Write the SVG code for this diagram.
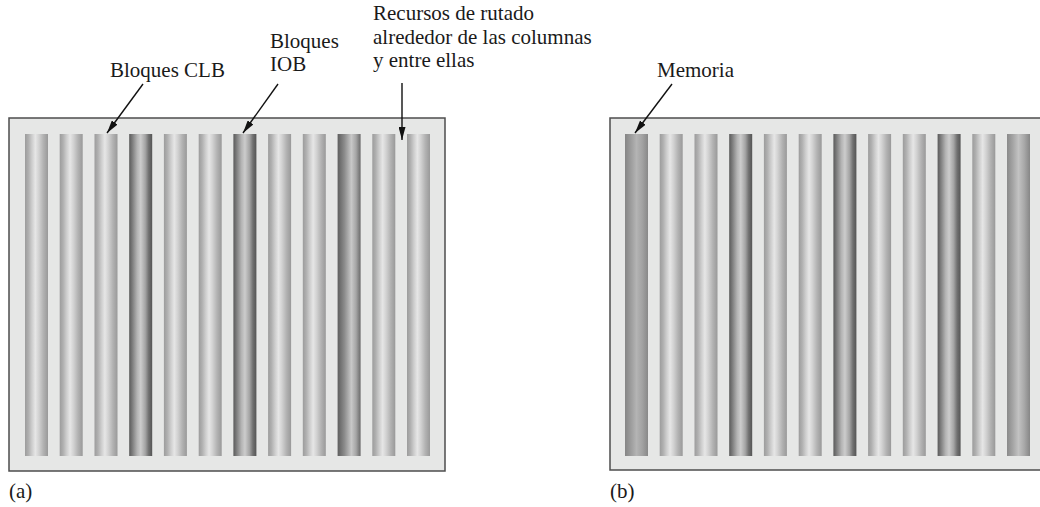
<svg xmlns="http://www.w3.org/2000/svg" width="1040" height="507" viewBox="0 0 1040 507">
<defs>
<linearGradient id="gLight" x1="0" y1="0" x2="1" y2="0">
<stop offset="0" stop-color="#9c9c9c"/>
<stop offset="0.15" stop-color="#b0b0b0"/>
<stop offset="0.3" stop-color="#cdcdcd"/>
<stop offset="0.45" stop-color="#e6e6e6"/>
<stop offset="0.6" stop-color="#d2d2d2"/>
<stop offset="0.8" stop-color="#b2b2b2"/>
<stop offset="1" stop-color="#999999"/>
</linearGradient>
<linearGradient id="gDark" x1="0" y1="0" x2="1" y2="0">
<stop offset="0" stop-color="#5a5a5a"/>
<stop offset="0.15" stop-color="#808080"/>
<stop offset="0.35" stop-color="#b4b4b4"/>
<stop offset="0.5" stop-color="#cccccc"/>
<stop offset="0.7" stop-color="#a4a4a4"/>
<stop offset="0.85" stop-color="#707070"/>
<stop offset="1" stop-color="#555555"/>
</linearGradient>
<linearGradient id="gDark2" x1="0" y1="0" x2="1" y2="0">
<stop offset="0" stop-color="#5e5e5e"/>
<stop offset="0.3" stop-color="#8c8c8c"/>
<stop offset="0.6" stop-color="#c8c8c8"/>
<stop offset="0.8" stop-color="#a6a6a6"/>
<stop offset="1" stop-color="#6a6a6a"/>
</linearGradient>
<linearGradient id="gMem" x1="0" y1="0" x2="1" y2="0">
<stop offset="0" stop-color="#858585"/>
<stop offset="0.25" stop-color="#9c9c9c"/>
<stop offset="0.5" stop-color="#b4b4b4"/>
<stop offset="0.75" stop-color="#a2a2a2"/>
<stop offset="1" stop-color="#888888"/>
</linearGradient>
<linearGradient id="gMem2" x1="0" y1="0" x2="1" y2="0">
<stop offset="0" stop-color="#8a8a8a"/>
<stop offset="0.25" stop-color="#a4a4a4"/>
<stop offset="0.5" stop-color="#c2c2c2"/>
<stop offset="0.75" stop-color="#a8a8a8"/>
<stop offset="1" stop-color="#868686"/>
</linearGradient>
<marker id="ah" viewBox="0 0 13 7" refX="13" refY="3.5" markerWidth="13" markerHeight="7" markerUnits="userSpaceOnUse" orient="auto">
<path d="M0,0 L13,3.5 L0,7 Z" fill="#111"/>
</marker>
<style>
.panel{fill:#e6e7e6;stroke:#4d4d4d;stroke-width:1.5}
.lt{fill:url(#gLight)}
.dk{fill:url(#gDark)}
.dk2{fill:url(#gDark2)}
.mem{fill:url(#gMem)}
.mem2{fill:url(#gMem2)}
text{font-family:"Liberation Serif","Times New Roman",serif;font-size:21px;fill:#1a1a1a}
.ar{stroke:#111;stroke-width:1.4;fill:none;marker-end:url(#ah)}
</style>
</defs>

<g id="panelA">
<rect class="panel" x="9" y="118" width="436" height="353"/>
<g id="colsA">
<rect class="lt" x="25" y="134" width="23" height="322"/>
<rect class="lt" x="59.7" y="134" width="23" height="322"/>
<rect class="lt" x="94.5" y="134" width="23" height="322"/>
<rect class="dk" x="129.2" y="134" width="23" height="322"/>
<rect class="lt" x="163.9" y="134" width="23" height="322"/>
<rect class="lt" x="198.7" y="134" width="23" height="322"/>
<rect class="dk" x="233.4" y="134" width="23" height="322"/>
<rect class="lt" x="268.1" y="134" width="23" height="322"/>
<rect class="lt" x="302.8" y="134" width="23" height="322"/>
<rect class="dk2" x="337.6" y="134" width="23" height="322"/>
<rect class="lt" x="372.3" y="134" width="23" height="322"/>
<rect class="lt" x="407" y="134" width="23" height="322"/>
</g>
<text x="9" y="498">(a)</text>
</g>

<g id="panelB">
<rect class="panel" x="610" y="118" width="440" height="352"/>
<g id="colsB">
<rect class="mem" x="625" y="134" width="23" height="322"/>
<rect class="lt" x="659.7" y="134" width="23" height="322"/>
<rect class="lt" x="694.5" y="134" width="23" height="322"/>
<rect class="dk" x="729.2" y="134" width="23" height="322"/>
<rect class="lt" x="763.9" y="134" width="23" height="322"/>
<rect class="lt" x="798.7" y="134" width="23" height="322"/>
<rect class="dk" x="833.4" y="134" width="23" height="322"/>
<rect class="lt" x="868.1" y="134" width="23" height="322"/>
<rect class="lt" x="902.8" y="134" width="23" height="322"/>
<rect class="dk" x="937.6" y="134" width="23" height="322"/>
<rect class="lt" x="972.3" y="134" width="23" height="322"/>
<rect class="mem2" x="1007" y="134" width="23" height="322"/>
</g>
<text x="610" y="498">(b)</text>
</g>

<g id="labelCLB"><text x="110" y="77">Bloques CLB</text></g>
<g id="labelIOB"><text x="270" y="47.5">Bloques</text><text x="270" y="71">IOB</text></g>
<g id="labelRouting">
<text x="373" y="20">Recursos de rutado</text>
<text x="373" y="43.5">alrededor de las columnas</text>
<text x="373" y="67">y entre ellas</text>
</g>
<g id="labelMem"><text x="657" y="77">Memoria</text></g>

<g id="connectors">
<line class="ar" x1="143" y1="84" x2="107" y2="133"/>
<line class="ar" x1="278" y1="84" x2="243" y2="133"/>
<line class="ar" x1="402" y1="83" x2="402" y2="140"/>
<line class="ar" x1="672" y1="84" x2="635" y2="133"/>
</g>
</svg>
